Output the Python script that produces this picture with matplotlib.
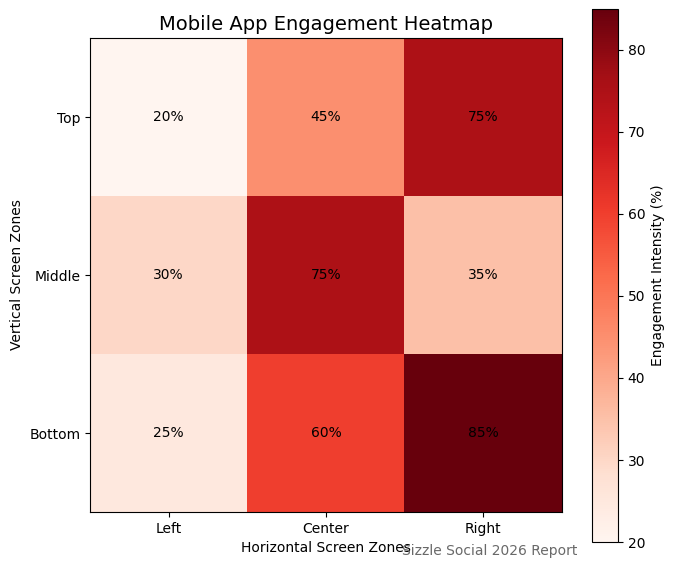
import matplotlib
matplotlib.use("Agg")
import matplotlib.pyplot as plt
import numpy as np

# data
cols = ["Left", "Center", "Right"]
rows = ["Top", "Middle", "Bottom"]
top = [20, 45, 75]
middle = [30, 75, 35]
bottom = [25, 60, 85]

vals = np.array([top, middle, bottom])

W, H = 675, 568
fig = plt.figure(figsize=(W / 100, H / 100), dpi=100)
ax = fig.add_axes([90 / W, (H - 512) / H, 472 / W, 474 / H])
cax = fig.add_axes([592 / W, (H - 542) / H, 26 / W, 533 / H])

im = ax.imshow(vals, cmap="Reds", vmin=20, vmax=85, aspect="auto")

ax.set_xticks(range(len(cols)))
ax.set_xticklabels(cols)
ax.set_yticks(range(len(rows)))
ax.set_yticklabels(rows)

for i in range(len(rows)):
    for j in range(len(cols)):
        ax.text(j, i, f"{vals[i, j]}%", ha="center", va="center", color="black", fontsize=10)

ax.set_title("Mobile App Engagement Heatmap", fontsize=14)
ax.set_xlabel("Horizontal Screen Zones")
ax.set_ylabel("Vertical Screen Zones")

cb = fig.colorbar(im, cax=cax)
cb.set_label("Engagement Intensity (%)")

fig.text(577 / W, (H - 555) / H, "Sizzle Social 2026 Report", ha="right", va="baseline",
         fontsize=10, color="dimgray")

fig.savefig("out.png", dpi=100)
